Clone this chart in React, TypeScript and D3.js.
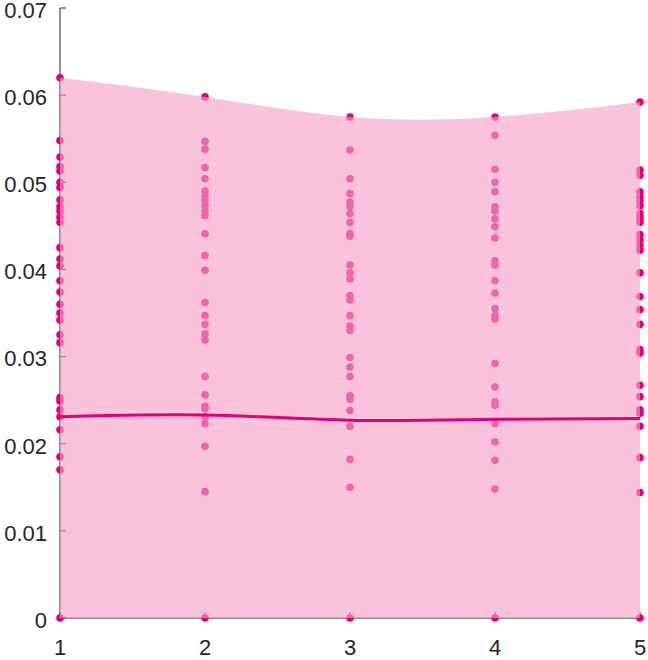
import React from "react";
import * as d3 from "d3";

const groups = [1, 2, 3, 4, 5];
const yTicks = [0, 0.01, 0.02, 0.03, 0.04, 0.05, 0.06, 0.07];
const yTickLabels = ["0", "0.01", "0.02", "0.03", "0.04", "0.05", "0.06", "0.07"];

const group1 = [0.062, 0.0548, 0.0529, 0.0518, 0.0513, 0.05, 0.0494, 0.048, 0.0472, 0.0467, 0.046, 0.0454, 0.0425, 0.0412, 0.0404, 0.0387, 0.0374, 0.036, 0.035, 0.0342, 0.0325, 0.0316, 0.0253, 0.0249, 0.0239, 0.0231, 0.0216, 0.0185, 0.017, 0];
const group2 = [0.0598, 0.0547, 0.0538, 0.0517, 0.0504, 0.049, 0.0484, 0.0479, 0.0473, 0.0467, 0.0462, 0.0441, 0.0416, 0.0399, 0.0362, 0.0347, 0.0337, 0.0326, 0.0319, 0.0277, 0.0256, 0.0243, 0.024, 0.0231, 0.0223, 0.0197, 0.0145, 0];
const group3 = [0.0575, 0.0537, 0.0504, 0.0487, 0.0477, 0.0472, 0.0464, 0.0454, 0.0441, 0.0438, 0.0405, 0.0396, 0.0389, 0.037, 0.0365, 0.0347, 0.0335, 0.033, 0.0299, 0.0288, 0.0277, 0.0255, 0.0251, 0.0238, 0.022, 0.0182, 0.015, 0];
const group4 = [0.0575, 0.0554, 0.0515, 0.05, 0.0489, 0.0472, 0.0467, 0.0458, 0.0449, 0.0436, 0.041, 0.0405, 0.0387, 0.0373, 0.0355, 0.0347, 0.0343, 0.0292, 0.0265, 0.0248, 0.0244, 0.0223, 0.0202, 0.0181, 0.0148, 0];
const group5 = [0.0592, 0.0514, 0.0508, 0.0489, 0.0483, 0.0479, 0.0473, 0.0464, 0.0459, 0.0454, 0.044, 0.0434, 0.0428, 0.0422, 0.0396, 0.0369, 0.0354, 0.0337, 0.0308, 0.0304, 0.0267, 0.0254, 0.0239, 0.0235, 0.022, 0.0184, 0.0144, 0];
const groupValues = [group1, group2, group3, group4, group5];

const meanLine = [0.0231, 0.0233, 0.0227, 0.0228, 0.0229];
const upperEnvelope = [0.062, 0.0598, 0.0575, 0.0575, 0.0592];

const W = 648;
const H = 660;
const left = 60;
const right = 640;
const top = 8;
const bottom = 618;

const MAGENTA = "#E2007A";
const FILL = "rgb(247,159,198)";

export default function App() {
  const x = d3.scaleLinear().domain([1, 5]).range([left, right]);
  const y = d3.scaleLinear().domain([0, 0.07]).range([bottom, top]);

  const area = d3
    .area<number>()
    .x((_, i) => x(groups[i]))
    .y0(() => y(0))
    .y1((d) => y(d))
    .curve(d3.curveNatural);

  const line = d3
    .line<number>()
    .x((_, i) => x(groups[i]))
    .y((d) => y(d))
    .curve(d3.curveNatural);

  const font = "'Liberation Sans', Arial, Helvetica, sans-serif";

  return (
    <svg
      width={W}
      height={H}
      style={{ position: "absolute", left: 0, top: 0 }}
      fontFamily={font}
    >
      {/* axes */}
      <line x1={left} x2={left} y1={top} y2={bottom} stroke="#262626" strokeWidth={1} />
      <line x1={left} x2={right} y1={bottom} y2={bottom} stroke="#262626" strokeWidth={1} />
      {yTicks.map((t) => (
        <line key={"yt" + t} x1={left} x2={left + 6} y1={y(t)} y2={y(t)} stroke="#262626" />
      ))}
      {groups.map((g) => (
        <line key={"xt" + g} x1={x(g)} x2={x(g)} y1={bottom} y2={bottom - 6} stroke="#262626" />
      ))}

      {/* points */}
      {groupValues.map((vals, gi) =>
        vals.map((v, j) => (
          <circle key={gi + "-" + j} cx={x(groups[gi])} cy={y(v)} r={3.8} fill={MAGENTA} />
        ))
      )}

      {/* envelope */}
      <path d={area(upperEnvelope) || ""} fill={FILL} fillOpacity={0.63} stroke="none" />

      {/* mean line */}
      <path d={line(meanLine) || ""} fill="none" stroke={MAGENTA} strokeWidth={3} />

      {/* tick labels */}
      {yTicks.map((t, i) => (
        <text
          key={"yl" + t}
          x={left - 13}
          y={y(t)}
          dy="0.45em"
          textAnchor="end"
          fontSize={22}
          fill="#262626"
        >
          {yTickLabels[i]}
        </text>
      ))}
      {groups.map((g) => (
        <text
          key={"xl" + g}
          x={x(g)}
          y={bottom + 21}
          dy="0.72em"
          textAnchor="middle"
          fontSize={22}
          fill="#262626"
        >
          {g}
        </text>
      ))}
    </svg>
  );
}
